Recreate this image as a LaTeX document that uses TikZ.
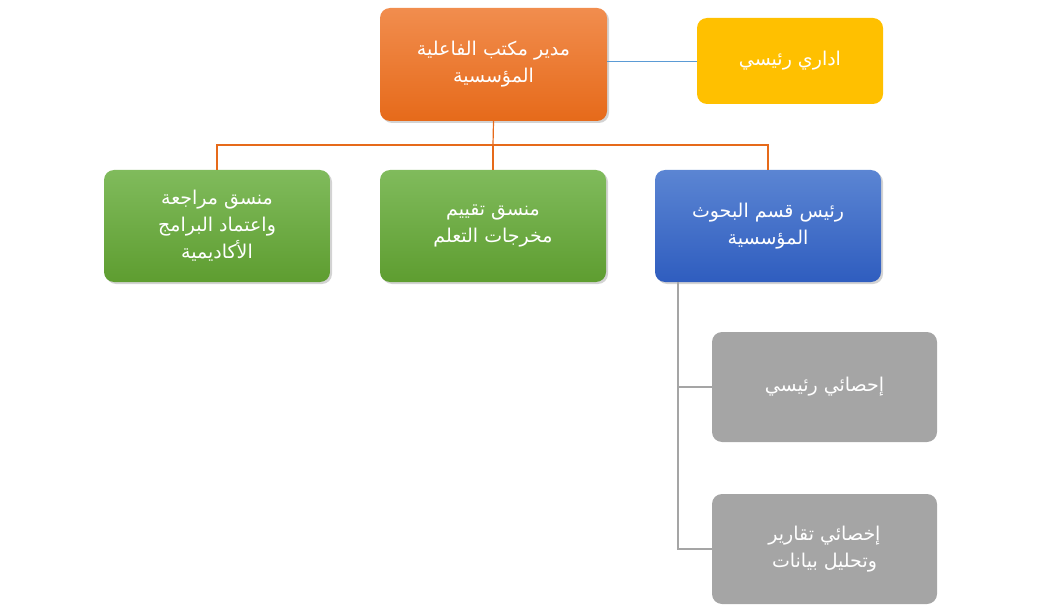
\documentclass[tikz,border=0pt]{standalone}
\usepackage{fontspec}
\TeXXeTstate=1
\newfontfamily\arabicfont[Script=Arabic]{DejaVu Sans}
\usetikzlibrary{shadows}
\newcommand{\ar}[1]{\beginR #1\endR}
\begin{document}
\begin{tikzpicture}[x=1pt,y=-1pt,
  box/.style={rounded corners=10pt,minimum width=#1,align=center,text=white,
    font=\arabicfont\fontsize{19}{27}\selectfont,drop shadow={opacity=0.35,shadow xshift=2pt,shadow yshift=-2pt}},
  orangebox/.style={box=227pt,minimum height=113pt,top color=orange1,bottom color=orange2,draw=none},
  greenbox/.style={box=226pt,minimum height=112pt,top color=green1,bottom color=green2,draw=none},
  bluebox/.style={box=226pt,minimum height=112pt,top color=blue1,bottom color=blue2,draw=none},
  graybox/.style={rounded corners=10pt,minimum width=225pt,minimum height=110pt,fill=grayc,align=center,text=white,font=\arabicfont\fontsize{19}{27}\selectfont},
  yellowbox/.style={rounded corners=10pt,minimum width=186pt,minimum height=86pt,fill=yellowc,align=center,text=white,font=\arabicfont\fontsize{19}{27}\selectfont},
  oline/.style={draw=orange2,line width=1.2pt},
  gline/.style={draw=grayc,line width=1.2pt},
  bline/.style={draw=bluel,line width=0.8pt}]
\definecolor{orange1}{HTML}{F18D4E}
\definecolor{orange2}{HTML}{E66A1A}
\definecolor{green1}{HTML}{80BB5C}
\definecolor{green2}{HTML}{5E9D30}
\definecolor{blue1}{HTML}{5B85D3}
\definecolor{blue2}{HTML}{2F5DBF}
\definecolor{grayc}{HTML}{A5A5A5}
\definecolor{yellowc}{HTML}{FFC000}
\definecolor{bluel}{HTML}{5B9BD5}
\useasboundingbox (0,0) rectangle (1042,607);
\node[orangebox] (top) at (493.5,64.5) {\ar{مدير مكتب الفاعلية}\\\ar{المؤسسية}};
\node[yellowbox] (adm) at (790,61) {\ar{اداري رئيسي}};
\node[greenbox] (g1) at (217,226) {\ar{منسق مراجعة}\\\ar{واعتماد البرامج}\\\ar{الأكاديمية}};
\node[greenbox] (g2) at (493,226) {\ar{منسق تقييم}\\\ar{مخرجات التعلم}};
\node[bluebox] (bl) at (768,226) {\ar{رئيس قسم البحوث}\\\ar{المؤسسية}};
\node[graybox] (s1) at (824.5,387) {\ar{إحصائي رئيسي}};
\node[graybox] (s2) at (824.5,549) {\ar{إخصائي تقارير}\\\ar{وتحليل بيانات}};
\coordinate (hb) at (493,145);
\draw[bline] (top.east |- adm.west) -- (adm.west);
\draw[oline] (top.south) -- (hb);
\draw[oline] (g1.north) -- (g1.north |- hb) -- (bl.north |- hb) -- (bl.north);
\draw[oline] (hb) -- (g2.north);
\coordinate (gv) at (678,282);
\draw[gline] (gv) -- (gv |- s2.west) -- (s2.west);
\draw[gline] (gv |- s1.west) -- (s1.west);
\end{tikzpicture}
\end{document}
